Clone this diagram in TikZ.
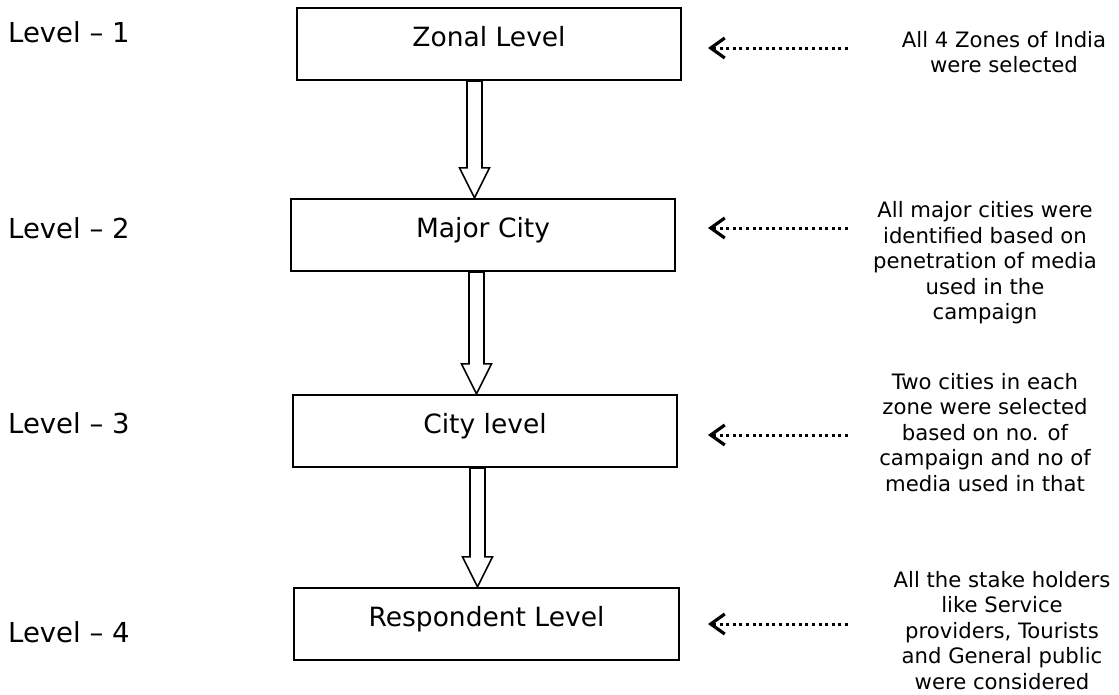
\documentclass[tikz,border=0pt]{standalone}
\usepackage{fontspec}
\setmainfont{DejaVu Sans}
\usetikzlibrary{calc,arrows.meta}

\tikzset{
  levelbox/.style={draw, line width=2.2pt, minimum width=384pt, minimum height=72pt,
    inner sep=0pt, text height=20pt, text depth=16pt, font=\fontsize{26.5}{32}\selectfont},
  levellabel/.style={anchor=base west, inner sep=0pt, font=\fontsize{27.5}{32}\selectfont},
  note/.style={anchor=north, align=center, inner sep=0pt, font=\fontsize{21.2}{25.5}\selectfont},
  pointer/.style={line width=3pt, dash pattern=on 3pt off 3.6pt,
    -{Straight Barb[length=14pt,width=20pt,line width=3.2pt]}},
  hollowarrow/.style={draw, line width=1.6pt, fill=white, line join=miter}
}
\newcommand{\fatarrow}[2]{%
  \draw[hollowarrow] (#2) -- ++(-15,-30) -- ++(7.5,0) -- ($(#1)+(-7.5,0)$)
    -- ($(#1)+(7.5,0)$) -- ($(#2)+(7.5,-30)$) -- ++(7.5,0) -- cycle;}

\begin{document}
\begin{tikzpicture}[x=1pt, y=-1pt]
  \useasboundingbox (0,0) rectangle (1119,694);

  %Define nodes
  \node[levelbox] (zonal) at (489,44) {Zonal Level};
  \node[levelbox] (major) at (483,235) {Major City};
  \node[levelbox] (city) at (485,431) {City level};
  \node[levelbox, minimum width=385pt] (resp) at (486.5,624) {Respondent Level};

  \node[levellabel] (lvl1) at (8,42.5) {Level – 1};
  \node[levellabel] (lvl2) at (8,238.5) {Level – 2};
  \node[levellabel] (lvl3) at (8,433.5) {Level – 3};
  \node[levellabel] (lvl4) at (8,642) {Level – 4};

  \node[note] (note1) at (1004,31) {All 4 Zones of India\\were selected};
  \node[note] (note2) at (985,201.5) {All major cities were\\identified based on\\penetration of media\\used in the\\campaign};
  \node[note] (note3) at (985,373) {Two cities in each\\zone were selected\\based on no. of\\campaign and no of\\media used in that};
  \node[note] (note4) at (1002,571) {All the stake holders\\like Service\\providers, Tourists\\and General public\\were considered};

  \coordinate (p1s) at (848,48);  \coordinate (p1e) at (708,48);
  \coordinate (p2s) at (848,228); \coordinate (p2e) at (708,228);
  \coordinate (p3s) at (848,435); \coordinate (p3e) at (708,435);
  \coordinate (p4s) at (848,624); \coordinate (p4e) at (708,624);

  % Connect the nodes
  \coordinate (t1) at ($(zonal.south)+(-14.5,0)$); \coordinate (h1) at (t1 |- major.north);
  \coordinate (t2) at ($(major.south)+(-6.5,0)$);  \coordinate (h2) at (t2 |- city.north);
  \coordinate (t3) at ($(city.south)+(-7.5,0)$);   \coordinate (h3) at (t3 |- resp.north);
  \fatarrow{t1}{h1}
  \fatarrow{t2}{h2}
  \fatarrow{t3}{h3}

  \foreach \i in {1,...,4}
    \draw[pointer] (p\i s) -- (p\i e);

\end{tikzpicture}
\end{document}
